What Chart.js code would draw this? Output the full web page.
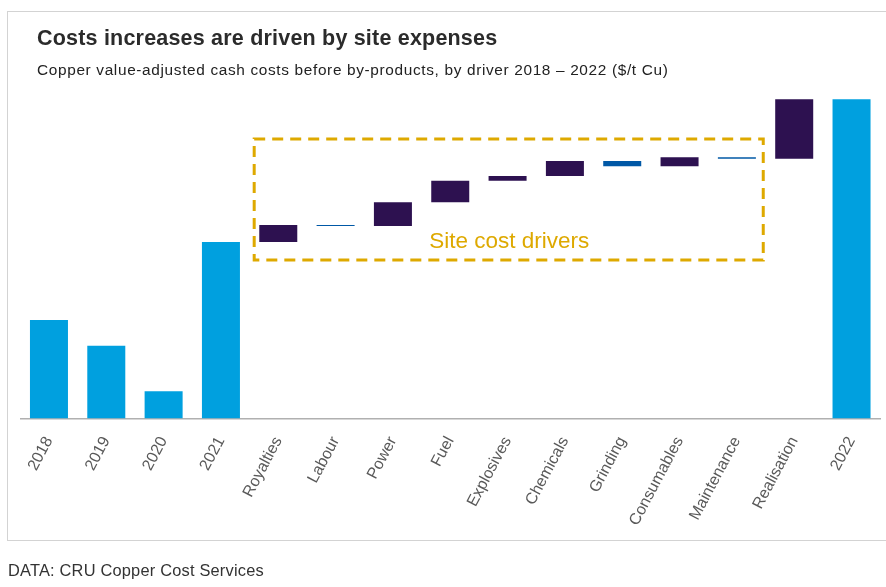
<!DOCTYPE html>
<html>
<head>
<meta charset="utf-8">
<script src="https://cdn.jsdelivr.net/npm/chart.js@4.4.0/dist/chart.umd.min.js"></script>
<style>
  html, body { margin: 0; padding: 0; background: #fff; }
  body { width: 886px; height: 587px; position: relative; overflow: hidden; font-family: "Liberation Sans", Arial, sans-serif; }
  #frame { position: absolute; left: 7px; top: 11px; width: 900px; height: 530px; border: 1px solid #d3d3d3; box-sizing: border-box; }
  #chart { position: absolute; left: 0; top: 0; }
  .txt { position: absolute; white-space: nowrap; line-height: 1; }
  #title { left: 37px; top: 28px; font-size: 21.5px; letter-spacing: 0.2px; font-weight: bold; color: #2b2b2b; }
  #subtitle { left: 37px; top: 62px; font-size: 15.4px; letter-spacing: 0.65px; color: #222; }
  #source { left: 8px; top: 562px; font-size: 16.4px; letter-spacing: 0.2px; color: #333; }
</style>
</head>
<body>
<div id="frame"></div>
<canvas id="chart" width="886" height="587"></canvas>
<div class="txt" id="title">Costs increases are driven by site expenses</div>
<div class="txt" id="subtitle">Copper value-adjusted cash costs before by-products, by driver 2018 – 2022 ($/t Cu)</div>
<div class="txt" id="source">DATA: CRU Copper Cost Services</div>
<script>
// totals per year ($/t Cu)
const years = ['2018', '2019', '2020', '2021'];
const yearCosts = [985, 728, 272, 1765];
// 2021 -> 2022 drivers
const drivers = ['Royalties', 'Labour', 'Power', 'Fuel', 'Explosives', 'Chemicals', 'Grinding', 'Consumables', 'Maintenance', 'Realisation'];
const driverChange = [170, -10, 237, 216, 47, 150, -53, 90, -14, 594];
const endYear = '2022';
const endCost = 3192;

const totalColor = '#00a0df';
const upColor = '#2d1150';
const downColor = '#0058a6';
const boxColor = '#dea900';

const labels = years.concat(drivers, [endYear]);
const bars = [];
const colors = [];
years.forEach((y, i) => { bars.push([0, yearCosts[i]]); colors.push(totalColor); });
let run = yearCosts[yearCosts.length - 1];
driverChange.forEach(d => {
    bars.push([run, run + d]);
    colors.push(d < 0 ? downColor : upColor);
    run += d;
});
bars.push([0, endCost]);
colors.push(totalColor);

// dashed box round the site drivers, in axis units
const siteBox = { x0: 3.58, x1: 12.46, yTop: 2795, yBottom: 1585, label: 'Site cost drivers', labelX: 8.03, labelY: 1768 };

const boxPlugin = {
    id: 'siteBox',
    afterDatasetsDraw(chart) {
        const ctx = chart.ctx;
        const x = chart.scales.x, y = chart.scales.y;
        const l = x.getPixelForValue(siteBox.x0), r = x.getPixelForValue(siteBox.x1);
        const t = y.getPixelForValue(siteBox.yTop), b = y.getPixelForValue(siteBox.yBottom);
        ctx.save();
        ctx.strokeStyle = boxColor;
        ctx.lineWidth = 3;
        ctx.setLineDash([11, 7]);
        ctx.strokeRect(l, t, r - l, b - t);
        ctx.setLineDash([]);
        ctx.fillStyle = boxColor;
        ctx.font = '22.5px "Liberation Sans", Arial, sans-serif';
        ctx.textAlign = 'center';
        ctx.textBaseline = 'middle';
        ctx.fillText(siteBox.label, x.getPixelForValue(siteBox.labelX), y.getPixelForValue(siteBox.labelY));
        ctx.restore();
    }
};

const chart = new Chart(document.getElementById('chart'), {
    type: 'bar',
    data: {
        labels: labels,
        datasets: [{
            data: bars,
            backgroundColor: colors,
            borderWidth: 0,
            barPercentage: 0.663,
            categoryPercentage: 1
        }]
    },
    options: {
        responsive: false,
        animation: false,
        layout: { padding: { left: 20.3, right: 5.8, top: 90, bottom: 0 } },
        plugins: { legend: { display: false }, tooltip: { enabled: false } },
        scales: {
            x: {
                z: 1,
                grid: { display: false },
                border: { color: '#b0b0b0', width: 1.5 },
                ticks: {
                    autoSkip: false,
                    minRotation: 62,
                    maxRotation: 62,
                    padding: 7,
                    color: '#595959',
                    font: { family: '"Liberation Sans", Arial, sans-serif', size: 16 }
                },
                afterFit(s) { s.height = 168.5; }
            },
            y: {
                display: false,
                min: 0,
                max: 3285
            }
        }
    },
    plugins: [boxPlugin]
});
</script>
</body>
</html>
